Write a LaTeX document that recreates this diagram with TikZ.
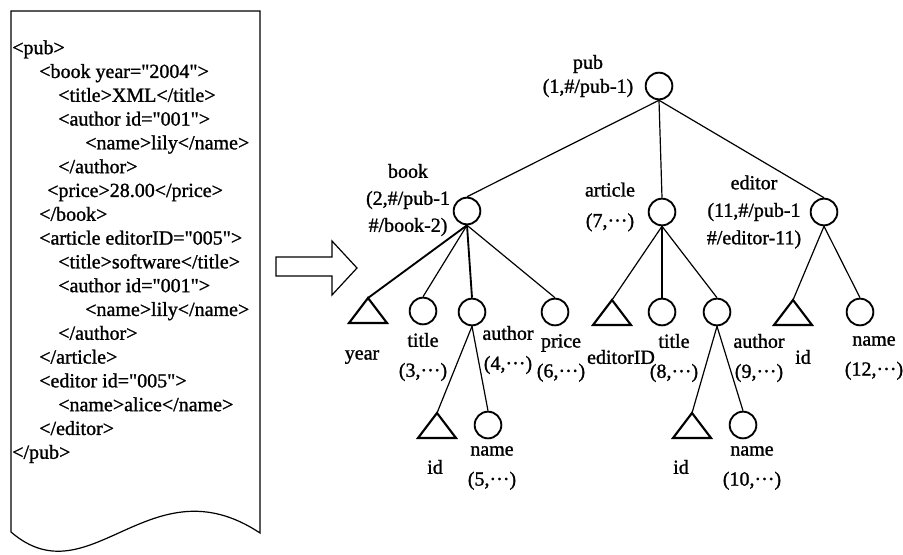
\documentclass[tikz,border=0pt]{standalone}
\usepackage{fontspec}
\setmainfont{Liberation Serif}[Ligatures=TeXOff,FakeBold=1.2]
\begin{document}
\begin{tikzpicture}[x=0.75pt,y=-0.75pt,
  elem/.style={circle,draw,line width=1.4pt,minimum size=20pt,inner sep=0pt},
  link/.style={line width=0.9pt},
  heavylink/.style={line width=1.4pt},
  attr/.style={line width=1.6pt,line join=miter},
  lbl/.style={align=center,inner sep=0pt,font=\fontsize{15pt}{22.5pt}\selectfont},
  docline/.style={line width=0.9pt},
]
\useasboundingbox (0,0) rectangle (903,554);

% attribute marker: triangle hanging from its apex
\newcommand\attrtri[3]{\coordinate (#1) at (#2,#3);
  \draw[attr] (#1) -- ++(19,25) -- ++(-38,0) -- cycle;}

% ---- XML document ----
\draw[docline] (11,532) -- (11,11) -- (260,11) -- (260,533)
  .. controls (150,460) and (90,600) .. (11,532);
\node[anchor=north west,inner sep=0pt,align=left,
      font=\fontsize{15pt}{17.85pt}\selectfont] (doc) at (12,40) {%
<pub>\\
\hspace*{20.25pt}<book year="2004">\\
\hspace*{34.5pt}<title>XML</title>\\
\hspace*{34.5pt}<author id="001">\\
\hspace*{54.75pt}<name>lily</name>\\
\hspace*{34.5pt}</author>\\
\hspace*{26.25pt}<price>28.00</price>\\
\hspace*{20.25pt}</book>\\
\hspace*{20.25pt}<article editorID="005">\\
\hspace*{34.5pt}<title>software</title>\\
\hspace*{34.5pt}<author id="001">\\
\hspace*{54.75pt}<name>lily</name>\\
\hspace*{34.5pt}</author>\\
\hspace*{20.25pt}</article>\\
\hspace*{20.25pt}<editor id="005">\\
\hspace*{34.5pt}<name>alice</name>\\
\hspace*{20.25pt}</editor>\\
</pub>};

% ---- conversion arrow ----
\draw[line width=0.9pt,line join=miter] (276,257) -- (332,257) -- (332,241) -- (357,268)
  -- (332,295) -- (332,276) -- (276,276) -- cycle;

% ---- tree: element nodes ----
\node[elem] (pub) at (659,86) {};
\node[elem] (book) at (467,211) {};
\node[elem] (article) at (662,212) {};
\node[elem] (editor) at (824,212) {};
\node[elem] (t3) at (423,311) {};
\node[elem] (a4) at (472,312) {};
\node[elem] (p6) at (555,312) {};
\node[elem] (n5) at (488,425) {};
\node[elem] (t8) at (662,312) {};
\node[elem] (a9) at (717,312) {};
\node[elem] (n10) at (743,425) {};
\node[elem] (n12) at (860,312) {};

% ---- tree: edges ----
\draw[link] (pub.south) -- (book.north);
\draw[link] (pub.south) -- (article.north);
\draw[link] (pub.south) -- (editor.north);
\draw[heavylink] (book.south) -- (368,298) coordinate (yrtop);
\draw[link] (book.south) -- (t3.north);
\draw[heavylink] (book.south) -- (a4.north);
\draw[link] (book.south) -- (p6.north);
\draw[link] (a4.south) -- (437,413) coordinate (bidtop);
\draw[link] (a4.south) -- (n5.north);
\draw[link] (article.south) -- (612,300) coordinate (eIDtop);
\draw[link] (article.south) -- (t8.north);
\draw[link] (article.south) -- (a9.north);
\draw[link] (a9.south) -- (692,413) coordinate (aidtop);
\draw[link] (a9.south) -- (n10.north);
\draw[link] (editor.south) -- (793,300) coordinate (eidtop);
\draw[link] (editor.south) -- (n12.north);

% ---- tree: attribute nodes ----
\attrtri{yr}{368}{298}
\attrtri{bid}{437}{413}
\attrtri{eID}{612}{300}
\attrtri{aid}{692}{413}
\attrtri{eid}{793}{300}

% ---- labels ----
\node[lbl,font=\fontsize{15pt}{18pt}\selectfont] (Lpub) at (588,76) {pub\\(1,\#/pub-1)};
\node[lbl,font=\fontsize{15pt}{20.25pt}\selectfont] (Lbook) at (408,200) {book\\(2,\#/pub-1\\\#/book-2)};
\node[lbl,font=\fontsize{15pt}{23pt}\selectfont] (Larticle) at (610,207) {article\\(7,···)};
\node[lbl,font=\fontsize{15pt}{20.6pt}\selectfont] (Leditor) at (754,212) {editor\\(11,\#/pub-1\\\#/editor-11)};
\node[lbl] (Lyr) at (362,357) {year};
\node[lbl] (Lt3) at (423,357) {title\\(3,···)};
\node[lbl] (La4) at (508,350) {author\\(4,···)};
\node[lbl] (Lp6) at (561,358) {price\\(6,···)};
\node[lbl] (LeID) at (621,357) {editorID};
\node[lbl] (Lt8) at (674,358) {title\\(8,···)};
\node[lbl] (La9) at (759,358) {author\\(9,···)};
\node[lbl] (Leid) at (803,357) {id};
\node[lbl] (Ln12) at (874,358) {name\\(12,···)};
\node[lbl] (Lbid) at (435,467) {id};
\node[lbl] (Ln5) at (492,468) {name\\(5,···)};
\node[lbl] (Laid) at (681,467) {id};
\node[lbl] (Ln10) at (752,468) {name\\(10,···)};
\end{tikzpicture}
\end{document}
